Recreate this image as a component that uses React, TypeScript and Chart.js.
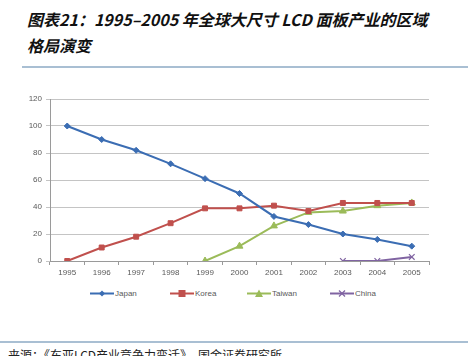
import React, { useEffect, useRef } from "react";
import { Chart, registerables } from "chart.js";

Chart.register(...registerables);

const categories = ["1995", "1996", "1997", "1998", "1999", "2000", "2001", "2002", "2003", "2004", "2005"];
const japan = [100, 90, 82, 72, 61, 50, 33, 27, 20, 16, 11];
const korea = [0, 10, 18, 28, 39, 39, 41, 37, 43, 43, 43];
const taiwan = [null, null, null, null, 0, 11, 26, 36, 37, 41, 43];
const china = [null, null, null, null, null, null, null, null, 0, 0, 3];
const yTicks = [0, 20, 40, 60, 80, 100, 120];

const seriesNames = ["Japan", "Korea", "Taiwan", "China"];
const seriesColors = ["#3b6db3", "#c0504d", "#9bbb59", "#8064a2"];
const seriesPoints = ["rectRot", "rect", "triangle", "crossRot"];
const seriesRadius = [3, 3.5, 4, 4];

const tickFont = { family: "'Liberation Sans Narrow', 'Liberation Sans', sans-serif", size: 8 };

function LegendSymbol({ idx }: { idx: number }) {
  const c = seriesColors[idx];
  let marker: React.ReactNode = null;
  if (idx === 0) marker = <polygon points="12,1.5 15,4.5 12,7.5 9,4.5" fill={c} />;
  if (idx === 1) marker = <rect x="8.5" y="1" width="7" height="7" fill={c} />;
  if (idx === 2) marker = <polygon points="12,0.5 16,8 8,8" fill={c} />;
  if (idx === 3)
    marker = (
      <g stroke={c} strokeWidth="1.2">
        <line x1="9" y1="1.5" x2="15" y2="7.5" />
        <line x1="15" y1="1.5" x2="9" y2="7.5" />
      </g>
    );
  return (
    <svg width="24" height="9" style={{ display: "block" }}>
      <line x1="0" y1="4.5" x2="24" y2="4.5" stroke={c} strokeWidth="2" />
      {marker}
    </svg>
  );
}

export default function App() {
  const ref = useRef<HTMLCanvasElement | null>(null);
  useEffect(() => {
    if (!ref.current) return;
    const data = [japan, korea, taiwan, china];
    const chart = new Chart(ref.current, {
      type: "line",
      data: {
        labels: categories,
        datasets: data.map((d, i) => ({
          label: seriesNames[i],
          data: d as (number | null)[],
          borderColor: seriesColors[i],
          backgroundColor: seriesColors[i],
          borderWidth: 2,
          pointStyle: seriesPoints[i] as any,
          pointRadius: seriesRadius[i],
          pointBorderWidth: i === 3 ? 1.2 : 1,
          pointBorderColor: seriesColors[i],
          pointBackgroundColor: seriesColors[i],
          tension: 0,
          spanGaps: false,
        })),
      },
      options: {
        animation: false,
        responsive: false,
        maintainAspectRatio: false,
        layout: { padding: { top: 9, right: 11, left: 0, bottom: 0 } },
        plugins: { legend: { display: false }, tooltip: { enabled: false } },
        scales: {
          x: {
            offset: true,
            grid: {
              offset: true,
              drawOnChartArea: false,
              drawTicks: true,
              tickLength: 4,
              color: "#9a9a9a",
            },
            border: { color: "#9a9a9a", width: 1 },
            ticks: { font: tickFont, color: "#595959", padding: 3, maxRotation: 0, autoSkip: false },
            afterFit: (s: any) => {
              s.height = 20;
            },
          },
          y: {
            min: 0,
            max: 120,
            afterBuildTicks: (s: any) => {
              s.ticks = yTicks.map((v) => ({ value: v }));
            },
            grid: { color: "#c4c4c4", tickLength: 4, drawTicks: true },
            border: { color: "#9a9a9a", width: 1 },
            ticks: { font: tickFont, color: "#595959", padding: 4 },
            afterFit: (s: any) => {
              s.width = 30;
            },
          },
        },
      },
    });
    return () => chart.destroy();
  }, []);

  const titleStyle: React.CSSProperties = {
    position: "absolute",
    left: 27,
    fontFamily: "'Noto Sans CJK SC', sans-serif",
    fontWeight: 700,
    fontStyle: "italic",
    fontSize: 16,
    color: "#111",
    whiteSpace: "nowrap",
    lineHeight: "20px",
  };

  const legendX = [90, 170, 247, 330];

  return (
    <div style={{ position: "absolute", left: 0, top: 0, width: 468, height: 356, overflow: "hidden", background: "#fff" }}>
      <div style={{ ...titleStyle, top: 9 }}>图表21：1995–2005 年全球大尺寸 LCD 面板产业的区域</div>
      <div style={{ ...titleStyle, top: 35 }}>格局演变</div>
      <div style={{ position: "absolute", left: 22, top: 66, width: 446, height: 1.5, background: "#a9bfd3" }} />
      <canvas ref={ref} width={420} height={191} style={{ position: "absolute", left: 20, top: 90, width: 420, height: 191 }} />
      {seriesNames.map((n, i) => (
        <div
          key={n}
          style={{
            position: "absolute",
            left: legendX[i],
            top: 289,
            display: "flex",
            alignItems: "center",
            fontFamily: "'Liberation Sans Narrow', 'Liberation Sans', sans-serif",
            fontSize: 8,
            color: "#595959",
          }}
        >
          <LegendSymbol idx={i} />
          <span style={{ marginLeft: 1 }}>{n}</span>
        </div>
      ))}
      <div style={{ position: "absolute", left: 0, top: 341, width: 468, height: 1.5, background: "#a9bfd3" }} />
      <div
        style={{
          position: "absolute",
          left: 8,
          top: 347,
          fontFamily: "'Noto Sans CJK SC', sans-serif",
          fontSize: 12,
          color: "#222",
          whiteSpace: "nowrap",
          lineHeight: "16px",
        }}
      >
        来源：《东亚LCD产业竞争力变迁》，国金证券研究所
      </div>
    </div>
  );
}
